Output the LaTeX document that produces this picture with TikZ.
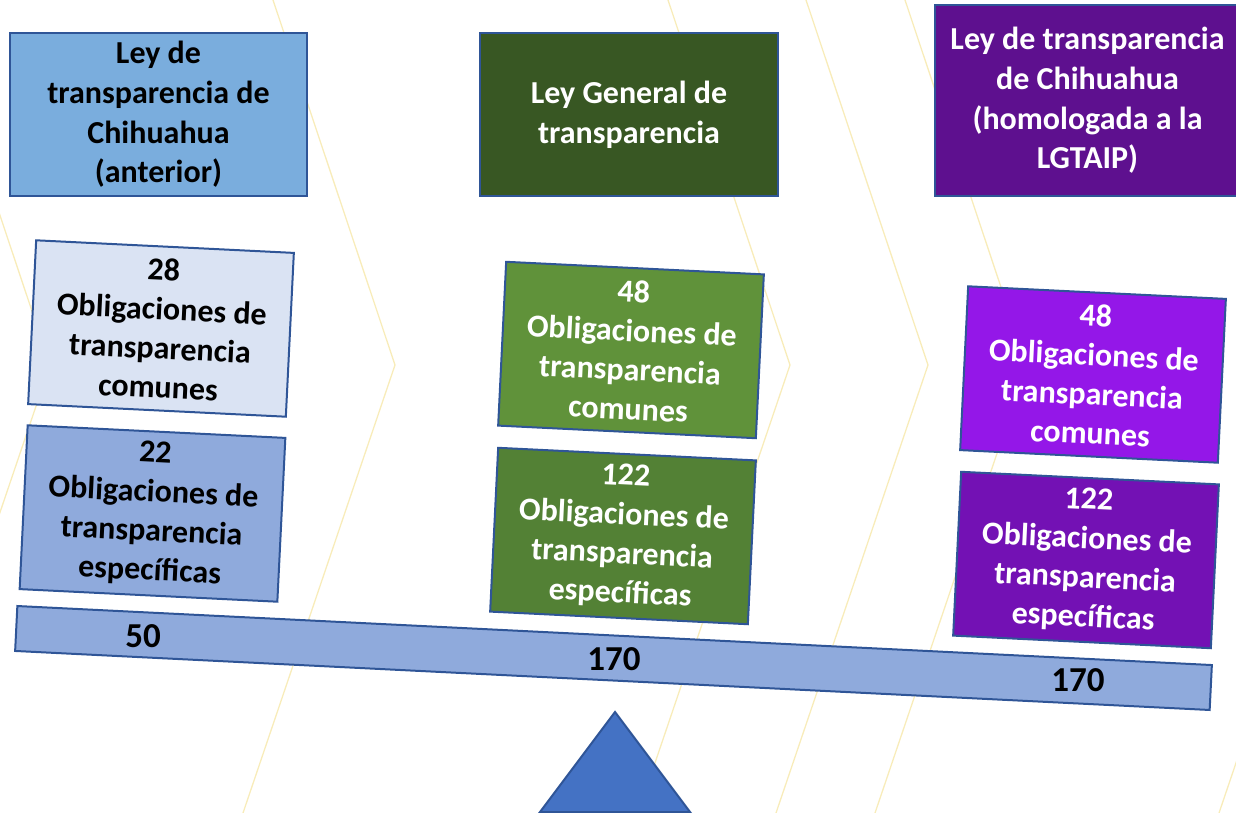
\documentclass[tikz,border=0pt]{standalone}
\usepackage{fontspec}
\setmainfont{Carlito}
\usepackage{tikz}

\tikzset{
  box/.style={draw=box_line, line width=1pt, align=center, inner sep=0pt,
    font=\fontsize{16}{19.6}\selectfont\bfseries},
  lawbox/.style={box, minimum height=81.5pt, font=\fontsize{16}{19.8}\selectfont\bfseries},
  oblbox/.style={box, minimum width=129pt, minimum height=82pt, rotate=-2.8},
  chev/.style={draw=chev_yellow, line width=0.65pt},
  total/.style={font=\fontsize{17.5}{21}\selectfont\bfseries}
}

\begin{document}
\begin{tikzpicture}[x=0.5pt, y=-0.5pt]
\useasboundingbox (0,0) rectangle (1236,813);

\definecolor{chev_yellow}{HTML}{F8ECBA}
\definecolor{box_line}{HTML}{2F5597}
\definecolor{law_blue}{HTML}{7AADDD}
\definecolor{law_green}{HTML}{385723}
\definecolor{law_purple}{HTML}{5E108F}
\definecolor{obl_pale}{HTML}{DAE3F3}
\definecolor{obl_blue}{HTML}{8FAADC}
\definecolor{obl_green}{HTML}{60923A}
\definecolor{obl_darkgreen}{HTML}{538135}
\definecolor{obl_violet}{HTML}{9417E8}
\definecolor{obl_purple}{HTML}{7311B4}
\definecolor{base_blue}{HTML}{4472C4}

% background chevrons
\draw[chev] (-72,0) -- (50,365) -- (-102,813);
\draw[chev] (273,0) -- (395,365) -- (243,813);
\draw[chev] (668,0) -- (790,365) -- (638,813);
\draw[chev] (806,0) -- (928,365) -- (776,813);
\draw[chev] (905,0) -- (1027,365) -- (875,813);
\draw[chev] (1249,0) -- (1371,365) -- (1219,813);

% laws
\node[lawbox, fill=law_blue, minimum width=148.5pt] (anterior) at (158.5,114.5)
  {Ley de\\transparencia de\\Chihuahua\\(anterior)};
\node[lawbox, fill=law_green, text=white, minimum width=149pt] (general) at (629,114.5)
  {Ley General de\\transparencia};
\node[lawbox, fill=law_purple, text=white, minimum width=152.5pt, minimum height=95.5pt] (homologada) at (1087.5,100.5)
  {Ley de transparencia\\de Chihuahua\\(homologada a la\\LGTAIP)};

% obligations
\node[oblbox, fill=obl_pale] (ant_com) at (161,328.5)
  {28\\Obligaciones de\\transparencia\\comunes};
\node[oblbox, fill=obl_blue] (ant_esp) at (152.5,513.5)
  {22\\Obligaciones de\\transparencia\\espec\'ificas};
\node[oblbox, fill=obl_green, text=white] (gen_com) at (631,350)
  {48\\Obligaciones de\\transparencia\\comunes};
\node[oblbox, fill=obl_darkgreen, text=white] (gen_esp) at (623,536)
  {122\\Obligaciones de\\transparencia\\espec\'ificas};
\node[oblbox, fill=obl_violet, text=white] (hom_com) at (1093,374.5)
  {48\\Obligaciones de\\transparencia\\comunes};
\node[oblbox, fill=obl_purple, text=white] (hom_esp) at (1086,560)
  {122\\Obligaciones de\\transparencia\\espec\'ificas};

% balance
\node[draw=box_line, line width=1pt, fill=obl_blue, inner sep=0pt,
  minimum width=598pt, minimum height=22.5pt, rotate=-2.83] (beam) at (613.5,658) {};
\filldraw[fill=base_blue, draw=box_line, line width=1pt] (615,712) -- (540,812) -- (690,812) -- cycle;

\node[total] (sum_ant) at (143,636) {50};
\node[total] (sum_gen) at (614,659) {170};
\node[total] (sum_hom) at (1078,680) {170};

\end{tikzpicture}
\end{document}
